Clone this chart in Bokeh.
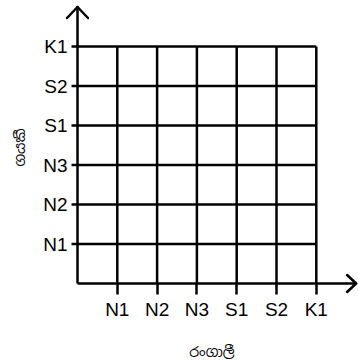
import math
from bokeh.plotting import figure
from bokeh.models import Range1d, FixedTicker, Arrow
from bokeh.embed import file_html
from bokeh.resources import INLINE

# ---- data ----
x_labels = ["N1", "N2", "N3", "S1", "S2", "K1"]
y_labels = ["N1", "N2", "N3", "S1", "S2", "K1"]
x_title = "රංගාලී"
y_title = "ගයකී"

nx = len(x_labels)
ny = len(y_labels)
x_pos = list(range(1, nx + 1))
y_pos = list(range(1, ny + 1))

# axis arrow extent (data units)
X_TIP = 7.0
Y_TIP = 7.0

# ---- layout (pixels) ----
W, H = 358, 363
AXIS_X, AXIS_Y = 77, 283      # canvas position of the origin
UX, UY = 39.8, 39.5           # pixels per grid step
PAD_L, PAD_B = 12, 11         # frame margin left of / below the axes
X_TICK, Y_TICK = 11, 6        # tick lengths
LEFT = AXIS_X - PAD_L
BOTTOM = H - AXIS_Y - PAD_B

LW = 2.5
INK = "black"
FONT = "Liberation Sans, Arial, sans-serif"
SIN_FONT = "Noto Sans Sinhala, Iskoola Pota, sans-serif"

p = figure(width=W, height=H,
           x_range=Range1d(-PAD_L / UX, (W - AXIS_X) / UX),
           y_range=Range1d(-PAD_B / UY, AXIS_Y / UY),
           output_backend="svg", toolbar_location=None,
           min_border_left=LEFT, min_border_right=0,
           min_border_top=0, min_border_bottom=BOTTOM)
p.outline_line_color = None
p.background_fill_color = "white"
p.border_fill_color = "white"
p.xgrid.visible = False
p.ygrid.visible = False

# grid lines (cells); horizontal ones run out past the y axis as its ticks
p.segment(x0=[-Y_TICK / UX] * ny, y0=y_pos, x1=[nx] * ny, y1=y_pos,
          line_color=INK, line_width=LW)
p.segment(x0=x_pos, y0=[0] * nx, x1=x_pos, y1=[ny] * nx,
          line_color=INK, line_width=LW)

# axis shafts
p.add_layout(Arrow(x_start=0, y_start=0, x_end=X_TIP, y_end=0, end=None,
                   line_color=INK, line_width=LW))
p.add_layout(Arrow(x_start=0, y_start=0, x_end=0, y_end=Y_TIP, end=None,
                   line_color=INK, line_width=LW))

# open arrow heads: (half-width, length) in pixels
XH_W, XH_L = 8.5, 9.0
YH_W, YH_L = 10.5, 11.0
for sgn in (1, -1):
    p.add_layout(Arrow(x_start=X_TIP, y_start=0,
                       x_end=X_TIP - XH_L / UX, y_end=sgn * XH_W / UY,
                       end=None, line_color=INK, line_width=LW, line_cap="round"))
    p.add_layout(Arrow(x_start=0, y_start=Y_TIP,
                       x_end=sgn * YH_W / UX, y_end=Y_TIP - YH_L / UY,
                       end=None, line_color=INK, line_width=LW, line_cap="round"))

# axes: ticks and labels
for ax, pos, labs in ((p.xaxis, x_pos, x_labels), (p.yaxis, y_pos, y_labels)):
    ax.ticker = FixedTicker(ticks=pos)
    ax.major_label_overrides = {v: s for v, s in zip(pos, labs)}
    ax.axis_line_color = None
    ax.major_tick_out = 0
    ax.major_tick_line_width = LW
    ax.major_tick_line_color = INK
    ax.minor_tick_line_color = None
    ax.major_label_text_font = FONT
    ax.major_label_text_font_size = "19px"
    ax.major_label_text_color = INK
    ax.axis_label_text_font = SIN_FONT
    ax.axis_label_text_font_size = "14px"
    ax.axis_label_text_font_style = "normal"
    ax.axis_label_text_color = INK

# x ticks run from the frame edge up to the x axis
p.xaxis.major_tick_in = PAD_B
p.xaxis.major_label_standoff = 4
# y ticks are drawn by the horizontal grid lines
p.yaxis.major_tick_in = 0
p.yaxis.major_tick_line_color = None
p.yaxis.major_label_standoff = -(PAD_L - Y_TICK - 4)

p.yaxis.major_label_orientation = "horizontal"
p.xaxis.axis_label = x_title
p.yaxis.axis_label = y_title
p.xaxis.axis_label_standoff = 20
p.yaxis.axis_label_standoff = 11

open("out.html", "w").write(file_html(p, INLINE))
